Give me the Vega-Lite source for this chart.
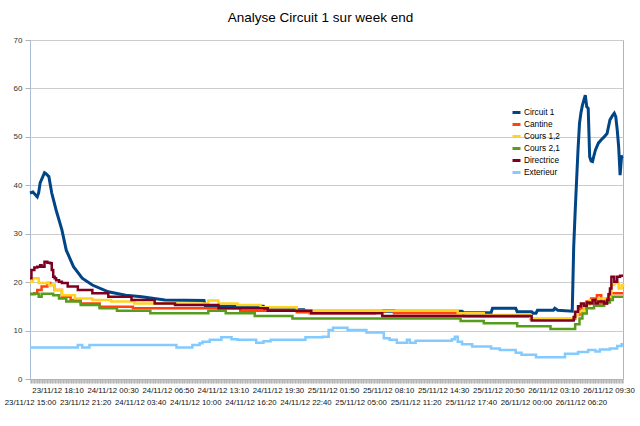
{
"$schema":"https://vega.github.io/schema/vega-lite/v6.json",
"width":593,"height":339,"autosize":"none",
"padding":{"left":30,"top":40,"right":17,"bottom":47},
"background":"white",
"config":{"view":{"stroke":"#b3b3b3"},"font":"Liberation Sans"},
"title":{"text":"Analyse Circuit 1 sur week end","fontSize":13.5,"fontWeight":"normal","font":"Liberation Sans","color":"#000000","offset":12,"dx":-6},
"data":{"values":[
{"s":"Circuit 1","t":"2012-11-23T15:00","v":38.4},
{"s":"Circuit 1","t":"2012-11-23T15:20","v":38.6},
{"s":"Circuit 1","t":"2012-11-23T15:50","v":37.6},
{"s":"Circuit 1","t":"2012-11-23T16:00","v":38.5},
{"s":"Circuit 1","t":"2012-11-23T16:10","v":40.5},
{"s":"Circuit 1","t":"2012-11-23T16:40","v":42.6},
{"s":"Circuit 1","t":"2012-11-23T16:50","v":42.4},
{"s":"Circuit 1","t":"2012-11-23T17:10","v":41.8},
{"s":"Circuit 1","t":"2012-11-23T17:30","v":38.4},
{"s":"Circuit 1","t":"2012-11-23T18:00","v":34.9},
{"s":"Circuit 1","t":"2012-11-23T18:40","v":30.8},
{"s":"Circuit 1","t":"2012-11-23T19:10","v":26.6},
{"s":"Circuit 1","t":"2012-11-23T20:00","v":23.2},
{"s":"Circuit 1","t":"2012-11-23T21:00","v":20.8},
{"s":"Circuit 1","t":"2012-11-23T22:10","v":19.4},
{"s":"Circuit 1","t":"2012-11-24T00:00","v":18.0},
{"s":"Circuit 1","t":"2012-11-24T02:00","v":17.3},
{"s":"Circuit 1","t":"2012-11-24T03:50","v":17.0},
{"s":"Circuit 1","t":"2012-11-24T06:30","v":16.3},
{"s":"Circuit 1","t":"2012-11-24T11:00","v":16.2},
{"s":"Circuit 1","t":"2012-11-24T11:10","v":15.0},
{"s":"Circuit 1","t":"2012-11-24T17:50","v":15.0},
{"s":"Circuit 1","t":"2012-11-24T18:00","v":14.3},
{"s":"Circuit 1","t":"2012-11-24T22:30","v":14.3},
{"s":"Circuit 1","t":"2012-11-24T22:40","v":14.0},
{"s":"Circuit 1","t":"2012-11-25T16:40","v":14.0},
{"s":"Circuit 1","t":"2012-11-25T16:50","v":13.7},
{"s":"Circuit 1","t":"2012-11-25T20:00","v":13.7},
{"s":"Circuit 1","t":"2012-11-25T20:10","v":14.6},
{"s":"Circuit 1","t":"2012-11-25T22:50","v":14.6},
{"s":"Circuit 1","t":"2012-11-25T23:00","v":13.9},
{"s":"Circuit 1","t":"2012-11-26T00:40","v":13.9},
{"s":"Circuit 1","t":"2012-11-26T00:50","v":13.6},
{"s":"Circuit 1","t":"2012-11-26T01:10","v":13.6},
{"s":"Circuit 1","t":"2012-11-26T01:20","v":14.2},
{"s":"Circuit 1","t":"2012-11-26T03:10","v":14.2},
{"s":"Circuit 1","t":"2012-11-26T03:20","v":14.6},
{"s":"Circuit 1","t":"2012-11-26T03:40","v":14.2},
{"s":"Circuit 1","t":"2012-11-26T05:20","v":14.0},
{"s":"Circuit 1","t":"2012-11-26T05:30","v":27.3},
{"s":"Circuit 1","t":"2012-11-26T05:40","v":34.5},
{"s":"Circuit 1","t":"2012-11-26T05:50","v":41.1},
{"s":"Circuit 1","t":"2012-11-26T06:00","v":47.5},
{"s":"Circuit 1","t":"2012-11-26T06:10","v":52.8},
{"s":"Circuit 1","t":"2012-11-26T06:20","v":55.0},
{"s":"Circuit 1","t":"2012-11-26T06:30","v":56.5},
{"s":"Circuit 1","t":"2012-11-26T06:40","v":57.6},
{"s":"Circuit 1","t":"2012-11-26T06:50","v":58.6},
{"s":"Circuit 1","t":"2012-11-26T07:00","v":56.2},
{"s":"Circuit 1","t":"2012-11-26T07:10","v":55.9},
{"s":"Circuit 1","t":"2012-11-26T07:20","v":45.9},
{"s":"Circuit 1","t":"2012-11-26T07:30","v":45.0},
{"s":"Circuit 1","t":"2012-11-26T07:40","v":44.9},
{"s":"Circuit 1","t":"2012-11-26T07:50","v":46.2},
{"s":"Circuit 1","t":"2012-11-26T08:00","v":47.3},
{"s":"Circuit 1","t":"2012-11-26T08:20","v":48.7},
{"s":"Circuit 1","t":"2012-11-26T08:40","v":49.4},
{"s":"Circuit 1","t":"2012-11-26T09:00","v":50.0},
{"s":"Circuit 1","t":"2012-11-26T09:20","v":50.7},
{"s":"Circuit 1","t":"2012-11-26T09:40","v":53.5},
{"s":"Circuit 1","t":"2012-11-26T10:00","v":54.5},
{"s":"Circuit 1","t":"2012-11-26T10:10","v":54.9},
{"s":"Circuit 1","t":"2012-11-26T10:20","v":54.2},
{"s":"Circuit 1","t":"2012-11-26T10:30","v":51.5},
{"s":"Circuit 1","t":"2012-11-26T10:40","v":48.0},
{"s":"Circuit 1","t":"2012-11-26T10:50","v":42.1},
{"s":"Circuit 1","t":"2012-11-26T11:00","v":45.9},
{"s":"Circuit 1","t":"2012-11-26T11:10","v":46.0},
{"s":"Cantine","t":"2012-11-23T15:00","v":17.5},
{"s":"Cantine","t":"2012-11-23T15:30","v":17.7},
{"s":"Cantine","t":"2012-11-23T15:50","v":18.4},
{"s":"Cantine","t":"2012-11-23T16:20","v":19.1},
{"s":"Cantine","t":"2012-11-23T17:00","v":19.8},
{"s":"Cantine","t":"2012-11-23T17:20","v":19.4},
{"s":"Cantine","t":"2012-11-23T17:50","v":18.4},
{"s":"Cantine","t":"2012-11-23T18:40","v":17.0},
{"s":"Cantine","t":"2012-11-23T19:40","v":16.3},
{"s":"Cantine","t":"2012-11-23T20:50","v":15.6},
{"s":"Cantine","t":"2012-11-23T23:00","v":14.9},
{"s":"Cantine","t":"2012-11-24T02:50","v":14.6},
{"s":"Cantine","t":"2012-11-24T15:10","v":14.1},
{"s":"Cantine","t":"2012-11-24T21:40","v":13.8},
{"s":"Cantine","t":"2012-11-24T23:10","v":13.6},
{"s":"Cantine","t":"2012-11-25T06:40","v":13.9},
{"s":"Cantine","t":"2012-11-25T07:40","v":14.2},
{"s":"Cantine","t":"2012-11-25T08:50","v":13.6},
{"s":"Cantine","t":"2012-11-25T16:50","v":12.9},
{"s":"Cantine","t":"2012-11-26T00:30","v":12.4},
{"s":"Cantine","t":"2012-11-26T05:40","v":13.2},
{"s":"Cantine","t":"2012-11-26T06:10","v":14.6},
{"s":"Cantine","t":"2012-11-26T07:00","v":16.0},
{"s":"Cantine","t":"2012-11-26T07:30","v":16.6},
{"s":"Cantine","t":"2012-11-26T08:00","v":16.3},
{"s":"Cantine","t":"2012-11-26T08:10","v":17.3},
{"s":"Cantine","t":"2012-11-26T08:40","v":15.6},
{"s":"Cantine","t":"2012-11-26T09:20","v":16.6},
{"s":"Cantine","t":"2012-11-26T09:40","v":17.7},
{"s":"Cantine","t":"2012-11-26T11:10","v":17.7},
{"s":"Cours 1,2","t":"2012-11-23T15:00","v":20.1},
{"s":"Cours 1,2","t":"2012-11-23T15:20","v":20.8},
{"s":"Cours 1,2","t":"2012-11-23T16:00","v":19.8},
{"s":"Cours 1,2","t":"2012-11-23T17:10","v":19.4},
{"s":"Cours 1,2","t":"2012-11-23T17:50","v":18.4},
{"s":"Cours 1,2","t":"2012-11-23T18:40","v":17.3},
{"s":"Cours 1,2","t":"2012-11-23T20:10","v":16.6},
{"s":"Cours 1,2","t":"2012-11-23T22:10","v":16.3},
{"s":"Cours 1,2","t":"2012-11-24T00:20","v":16.0},
{"s":"Cours 1,2","t":"2012-11-24T03:00","v":15.6},
{"s":"Cours 1,2","t":"2012-11-24T11:30","v":16.2},
{"s":"Cours 1,2","t":"2012-11-24T12:40","v":15.6},
{"s":"Cours 1,2","t":"2012-11-24T14:50","v":15.3},
{"s":"Cours 1,2","t":"2012-11-24T17:30","v":14.8},
{"s":"Cours 1,2","t":"2012-11-24T21:40","v":14.1},
{"s":"Cours 1,2","t":"2012-11-25T16:10","v":13.6},
{"s":"Cours 1,2","t":"2012-11-25T19:10","v":13.2},
{"s":"Cours 1,2","t":"2012-11-26T00:30","v":12.5},
{"s":"Cours 1,2","t":"2012-11-26T05:30","v":12.8},
{"s":"Cours 1,2","t":"2012-11-26T05:40","v":13.2},
{"s":"Cours 1,2","t":"2012-11-26T06:00","v":13.9},
{"s":"Cours 1,2","t":"2012-11-26T06:40","v":15.3},
{"s":"Cours 1,2","t":"2012-11-26T07:20","v":16.3},
{"s":"Cours 1,2","t":"2012-11-26T07:50","v":16.0},
{"s":"Cours 1,2","t":"2012-11-26T08:20","v":16.6},
{"s":"Cours 1,2","t":"2012-11-26T09:00","v":16.3},
{"s":"Cours 1,2","t":"2012-11-26T09:30","v":17.0},
{"s":"Cours 1,2","t":"2012-11-26T09:50","v":19.4},
{"s":"Cours 1,2","t":"2012-11-26T10:10","v":19.8},
{"s":"Cours 1,2","t":"2012-11-26T10:40","v":18.7},
{"s":"Cours 1,2","t":"2012-11-26T11:00","v":19.4},
{"s":"Cours 1,2","t":"2012-11-26T11:10","v":19.0},
{"s":"Cours 2,1","t":"2012-11-23T15:00","v":17.6},
{"s":"Cours 2,1","t":"2012-11-23T16:00","v":17.0},
{"s":"Cours 2,1","t":"2012-11-23T16:20","v":17.6},
{"s":"Cours 2,1","t":"2012-11-23T17:40","v":17.3},
{"s":"Cours 2,1","t":"2012-11-23T18:20","v":16.6},
{"s":"Cours 2,1","t":"2012-11-23T19:10","v":16.0},
{"s":"Cours 2,1","t":"2012-11-23T20:50","v":15.3},
{"s":"Cours 2,1","t":"2012-11-23T23:00","v":14.6},
{"s":"Cours 2,1","t":"2012-11-24T01:00","v":14.1},
{"s":"Cours 2,1","t":"2012-11-24T04:50","v":13.6},
{"s":"Cours 2,1","t":"2012-11-24T11:30","v":14.1},
{"s":"Cours 2,1","t":"2012-11-24T13:30","v":13.6},
{"s":"Cours 2,1","t":"2012-11-24T16:50","v":13.0},
{"s":"Cours 2,1","t":"2012-11-24T21:10","v":12.5},
{"s":"Cours 2,1","t":"2012-11-25T16:30","v":12.0},
{"s":"Cours 2,1","t":"2012-11-25T19:10","v":11.5},
{"s":"Cours 2,1","t":"2012-11-25T23:00","v":10.9},
{"s":"Cours 2,1","t":"2012-11-26T02:50","v":10.3},
{"s":"Cours 2,1","t":"2012-11-26T05:40","v":11.3},
{"s":"Cours 2,1","t":"2012-11-26T06:10","v":12.5},
{"s":"Cours 2,1","t":"2012-11-26T06:30","v":13.5},
{"s":"Cours 2,1","t":"2012-11-26T07:00","v":14.6},
{"s":"Cours 2,1","t":"2012-11-26T07:50","v":15.1},
{"s":"Cours 2,1","t":"2012-11-26T09:00","v":15.8},
{"s":"Cours 2,1","t":"2012-11-26T09:40","v":16.3},
{"s":"Cours 2,1","t":"2012-11-26T10:00","v":17.0},
{"s":"Cours 2,1","t":"2012-11-26T11:10","v":17.0},
{"s":"Directrice","t":"2012-11-23T15:00","v":20.8},
{"s":"Directrice","t":"2012-11-23T15:10","v":22.5},
{"s":"Directrice","t":"2012-11-23T15:30","v":23.0},
{"s":"Directrice","t":"2012-11-23T15:50","v":23.2},
{"s":"Directrice","t":"2012-11-23T16:10","v":23.5},
{"s":"Directrice","t":"2012-11-23T16:20","v":23.2},
{"s":"Directrice","t":"2012-11-23T16:40","v":24.2},
{"s":"Directrice","t":"2012-11-23T17:00","v":24.0},
{"s":"Directrice","t":"2012-11-23T17:20","v":23.9},
{"s":"Directrice","t":"2012-11-23T17:30","v":22.5},
{"s":"Directrice","t":"2012-11-23T17:40","v":21.1},
{"s":"Directrice","t":"2012-11-23T17:50","v":20.8},
{"s":"Directrice","t":"2012-11-23T18:00","v":20.4},
{"s":"Directrice","t":"2012-11-23T18:20","v":20.1},
{"s":"Directrice","t":"2012-11-23T18:40","v":19.8},
{"s":"Directrice","t":"2012-11-23T19:20","v":19.1},
{"s":"Directrice","t":"2012-11-23T20:30","v":18.4},
{"s":"Directrice","t":"2012-11-23T22:10","v":17.7},
{"s":"Directrice","t":"2012-11-24T00:00","v":17.0},
{"s":"Directrice","t":"2012-11-24T02:40","v":16.3},
{"s":"Directrice","t":"2012-11-24T05:20","v":15.6},
{"s":"Directrice","t":"2012-11-24T07:40","v":15.3},
{"s":"Directrice","t":"2012-11-24T12:40","v":14.6},
{"s":"Directrice","t":"2012-11-24T18:20","v":14.1},
{"s":"Directrice","t":"2012-11-24T23:20","v":13.6},
{"s":"Directrice","t":"2012-11-25T07:30","v":13.0},
{"s":"Directrice","t":"2012-11-26T00:40","v":12.1},
{"s":"Directrice","t":"2012-11-26T05:30","v":12.8},
{"s":"Directrice","t":"2012-11-26T05:40","v":13.9},
{"s":"Directrice","t":"2012-11-26T06:00","v":15.0},
{"s":"Directrice","t":"2012-11-26T06:20","v":15.6},
{"s":"Directrice","t":"2012-11-26T06:40","v":15.1},
{"s":"Directrice","t":"2012-11-26T07:00","v":15.8},
{"s":"Directrice","t":"2012-11-26T07:20","v":15.6},
{"s":"Directrice","t":"2012-11-26T07:40","v":16.3},
{"s":"Directrice","t":"2012-11-26T08:00","v":15.6},
{"s":"Directrice","t":"2012-11-26T08:20","v":16.0},
{"s":"Directrice","t":"2012-11-26T09:00","v":15.6},
{"s":"Directrice","t":"2012-11-26T09:20","v":16.3},
{"s":"Directrice","t":"2012-11-26T09:30","v":17.5},
{"s":"Directrice","t":"2012-11-26T09:40","v":18.7},
{"s":"Directrice","t":"2012-11-26T09:50","v":21.1},
{"s":"Directrice","t":"2012-11-26T10:10","v":20.1},
{"s":"Directrice","t":"2012-11-26T10:30","v":21.1},
{"s":"Directrice","t":"2012-11-26T10:50","v":21.3},
{"s":"Directrice","t":"2012-11-26T11:10","v":21.3},
{"s":"Exterieur","t":"2012-11-23T15:00","v":6.5},
{"s":"Exterieur","t":"2012-11-23T20:30","v":7.0},
{"s":"Exterieur","t":"2012-11-23T21:00","v":6.5},
{"s":"Exterieur","t":"2012-11-23T21:50","v":7.0},
{"s":"Exterieur","t":"2012-11-24T07:50","v":6.5},
{"s":"Exterieur","t":"2012-11-24T09:40","v":7.0},
{"s":"Exterieur","t":"2012-11-24T10:30","v":7.4},
{"s":"Exterieur","t":"2012-11-24T10:50","v":7.7},
{"s":"Exterieur","t":"2012-11-24T11:40","v":8.1},
{"s":"Exterieur","t":"2012-11-24T13:00","v":8.6},
{"s":"Exterieur","t":"2012-11-24T14:10","v":8.2},
{"s":"Exterieur","t":"2012-11-24T14:50","v":8.1},
{"s":"Exterieur","t":"2012-11-24T17:00","v":7.5},
{"s":"Exterieur","t":"2012-11-24T17:50","v":7.8},
{"s":"Exterieur","t":"2012-11-24T18:40","v":8.1},
{"s":"Exterieur","t":"2012-11-24T22:40","v":8.6},
{"s":"Exterieur","t":"2012-11-25T00:40","v":8.7},
{"s":"Exterieur","t":"2012-11-25T01:20","v":10.1},
{"s":"Exterieur","t":"2012-11-25T01:50","v":10.6},
{"s":"Exterieur","t":"2012-11-25T03:30","v":10.1},
{"s":"Exterieur","t":"2012-11-25T05:40","v":9.6},
{"s":"Exterieur","t":"2012-11-25T07:40","v":8.4},
{"s":"Exterieur","t":"2012-11-25T08:20","v":8.1},
{"s":"Exterieur","t":"2012-11-25T09:10","v":7.5},
{"s":"Exterieur","t":"2012-11-25T10:20","v":8.1},
{"s":"Exterieur","t":"2012-11-25T10:40","v":7.5},
{"s":"Exterieur","t":"2012-11-25T11:20","v":7.9},
{"s":"Exterieur","t":"2012-11-25T15:30","v":8.2},
{"s":"Exterieur","t":"2012-11-25T15:50","v":8.7},
{"s":"Exterieur","t":"2012-11-25T16:10","v":7.7},
{"s":"Exterieur","t":"2012-11-25T16:40","v":7.2},
{"s":"Exterieur","t":"2012-11-25T17:50","v":6.7},
{"s":"Exterieur","t":"2012-11-25T20:00","v":6.3},
{"s":"Exterieur","t":"2012-11-25T21:00","v":6.0},
{"s":"Exterieur","t":"2012-11-25T22:50","v":5.4},
{"s":"Exterieur","t":"2012-11-25T23:30","v":5.0},
{"s":"Exterieur","t":"2012-11-26T01:10","v":4.5},
{"s":"Exterieur","t":"2012-11-26T04:30","v":5.2},
{"s":"Exterieur","t":"2012-11-26T06:00","v":5.6},
{"s":"Exterieur","t":"2012-11-26T07:10","v":6.0},
{"s":"Exterieur","t":"2012-11-26T08:00","v":5.7},
{"s":"Exterieur","t":"2012-11-26T08:30","v":6.1},
{"s":"Exterieur","t":"2012-11-26T09:40","v":6.3},
{"s":"Exterieur","t":"2012-11-26T10:30","v":6.8},
{"s":"Exterieur","t":"2012-11-26T11:00","v":7.2},
{"s":"Exterieur","t":"2012-11-26T11:10","v":7.2}
]},
"encoding":{
"x":{"field":"t","type":"temporal",
 "scale":{"domain":[{"year":2012,"month":11,"date":23,"hours":15,"minutes":0},{"year":2012,"month":11,"date":26,"hours":11,"minutes":10}],"nice":false},
 "axis":{"title":null,"grid":false,"ticks":true,"tickSize":4,"tickColor":"#a8a8a8","tickWidth":0.6,"domain":true,"domainColor":"#b3b3b3",
  "tickCount":820,
  "labelExpr":"(datum.value - datetime(2012,10,23,15,0)) % 11400000 != 0 ? '' : (round((datum.value - datetime(2012,10,23,15,0))/11400000) % 2 == 0 ? ['', timeFormat(datum.value, '%d/%m/%y %H:%M')] : timeFormat(datum.value, '%d/%m/%y %H:%M'))",
  "labelLineHeight":12,
  "labelFontSize":7.8,"labelColor":"#111111","labelOverlap":false,"labelFlush":false,"labelBound":false,"labelPadding":3}},
"y":{"field":"v","type":"quantitative","scale":{"domain":[0,70],"nice":false},
 "axis":{"title":null,"values":[0,10,20,30,40,50,60,70],"grid":true,"gridColor":"#cccccc","tickSize":5,"tickColor":"#b3b3b3","domainColor":"#a9bcd6","labelFontSize":8,"labelColor":"#333333","labelPadding":3}},
"color":{"field":"s","type":"nominal",
 "scale":{"domain":["Circuit 1","Cantine","Cours 1,2","Cours 2,1","Directrice","Exterieur"],"range":["#004586","#ff420e","#ffd320","#579d1c","#7e0021","#83caff"]},
 "legend":{"orient":"none","legendX":481,"legendY":67,"title":null,"symbolType":"stroke","symbolSize":64,"symbolStrokeWidth":3,"labelFontSize":8.3,"labelColor":"#000000","rowPadding":-1.5,"padding":0,"labelOffset":2}}
},
"layer":[
 {"transform":[{"filter":"datum.s == 'Circuit 1'"}],"mark":{"type":"line","strokeWidth":3}},
 {"transform":[{"filter":"datum.s != 'Circuit 1'"}],"mark":{"type":"line","strokeWidth":2.5,"interpolate":"step-after"}}
]
}
